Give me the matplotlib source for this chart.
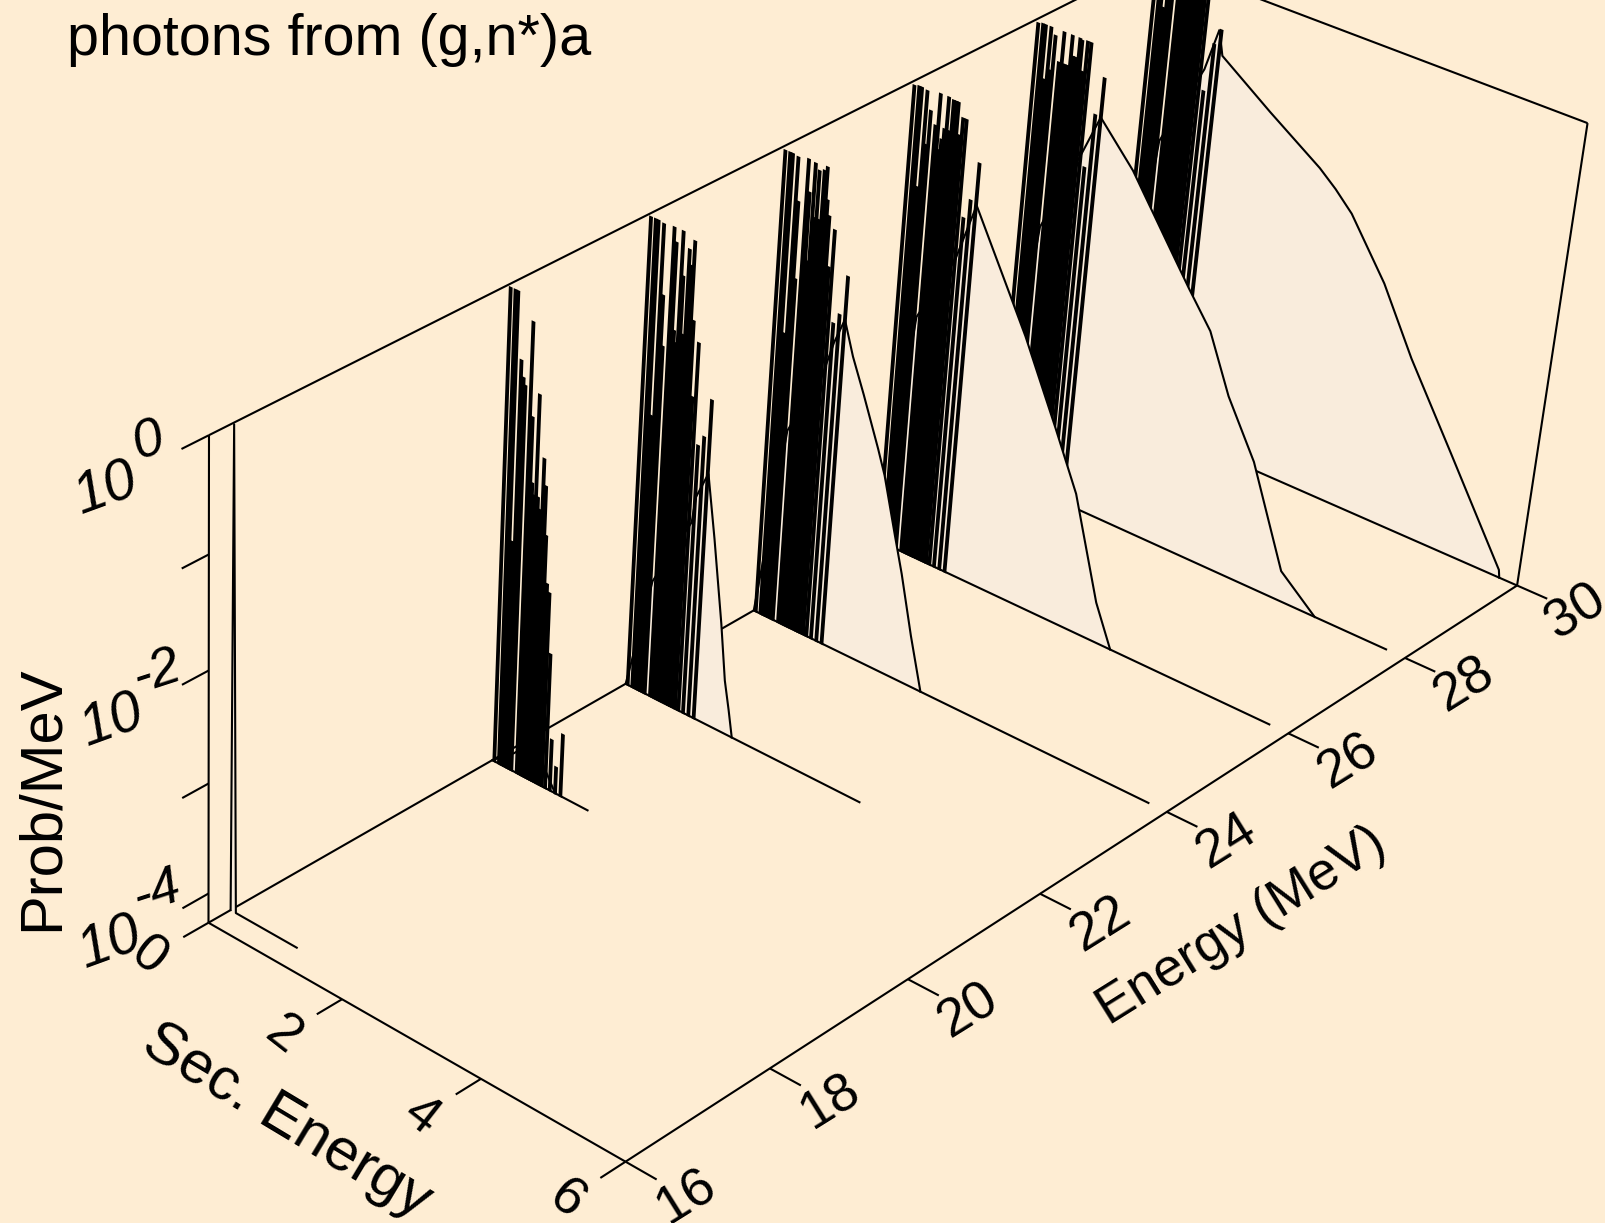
import numpy as np
import matplotlib
matplotlib.use("Agg")
import matplotlib.pyplot as plt
from matplotlib.patches import Polygon

plt.rcParams['font.family'] = ['Liberation Sans', 'DejaVu Sans']

BG = '#FEEDD3'
FILL = '#F9ECDC'
LW = 1.5
Z_MIN = -4.27
S = 1605 / 1568

TITLE = 'photons from (g,n*)a'
E_TICKS = [16, 18, 20, 22, 24, 26, 28, 30]
ES_TICKS = [0, 2, 4, 6]
Z_TICKS = [0, -1, -2, -3, -4]
Z_LABELS = {0: '0', -2: '-2', -4: '-4'}

# Secondary-energy positions of the discrete gamma lines (MeV)
LINE_ES = [.03, .10, .14, .18, .22, .26, .29, .37, .41, .44, .47, .50, .53, .56, .60,
           .64, .67, .71, .75, .80, .87, .95, 1.03]

# log10(prob/MeV) of the discrete lines for each incident energy
LINES_20 = [-.02, -.02, -.02, -2.2, -.59, -.73, -.79, -.22, -1.03, -1.6, -1.7, -.81, -1.7, -1.8,
            -1.34, -1.57, -2.0, -2.42, -2.49, -3.03, -3.8, -4.03, -3.7]
LINES_22 = [-.02, -.02, -.02, -1.73, -.03, -.64, -1.08, -.02, -.14, -.9, -1.0, -.02, -.40, -.9,
            -.15, -.28, -.06, -.74, -1.4, -.91, -1.8, -1.7, -1.35]
LINES_24 = [-.03, -.03, -.03, -1.62, -.04, -.42, -1.1, -.02, -.3, -.9, -.03, -.5, -.08, -.5,
            -.06, -.02, -.3, -.43, -.87, -.53, -1.34, -1.24, -.88]
LINES_26 = [-.03, -.02, -.02, -.9, -.03, -.5, -.19, -.3, -.01, -.5, -.4, -.3, -.01, -.3,
            -.02, -.02, -.02, -.3, -.14, -.14, -1.0, -.82, -.47]
LINES_28 = [-.03, -.02, -.02, -.5, -.02, -.4, -.08, -.3, -.02, -.3, -.3, -.3, -.02, -.2,
            -.2, -.02, -.03, -.3, -.02, -.02, -1.13, -.63, -.28]
LINES_30 = [-.02, -.02, -.02, -.4, -.02, -.3, -.06, -.2, -.02, -.2, -.2, -.2, -.02, -.2,
            -.1, -.02, -.03, -.2, -.02, -.01, -1.0, -.55, -.4]

# Continuum curves: secondary energy and log10(prob/MeV)
CONT_ES_20 = [0, .32, .6, .95]
CONT_Z_20 = [-4.27, -4.1, -3.9, -4.27]
CONT_ES_22 = [0, .32, .84, .88, 1.04, 1.18, 1.35, 1.45, 1.53, 1.6]
CONT_Z_22 = [-4.27, -3.2, -2.5, -2.26, -2.0, -2.55, -3.28, -3.78, -4.03, -4.27]
CONT_ES_24 = [0, .32, .78, .90, 1.03, 1.18, 1.37, 1.63, 1.75, 1.96, 2.10, 2.3, 2.5]
CONT_Z_24 = [-4.27, -2.47, -1.8, -1.5, -1.26, -1.55, -1.84, -2.26, -2.47, -2.96, -3.28, -3.8, -4.27]
CONT_ES_26 = [0, .32, .8, 1.04, 1.88, 2.42, 2.79, 3.22, 3.48]
CONT_Z_26 = [-4.27, -2.05, -1.4, -.84, -1.8, -2.5, -3.0, -3.9, -4.27]
CONT_ES_28 = [0, .32, .82, 1.03, 1.55, 2.49, 2.85, 3.2, 3.65, 4.2, 4.73]
CONT_Z_28 = [-4.27, -1.82, -1.0, -.63, -.98, -1.81, -2.11, -2.62, -3.11, -3.99, -4.27]
CONT_ES_30 = [0, .32, .85, 1.0, 1.08, 1.83, 2.6, 2.85, 3.11, 3.67, 4.17, 4.87, 5.73, 5.75]
CONT_Z_30 = [-4.27, -1.6, -.8, -.4, -.62, -.95, -1.27, -1.4, -1.56, -2.06, -2.63, -3.33, -4.2, -4.27]

SPECTRA = [
    (30, LINES_30, CONT_ES_30, CONT_Z_30, 6.0),
    (28, LINES_28, CONT_ES_28, CONT_Z_28, 5.75),
    (26, LINES_26, CONT_ES_26, CONT_Z_26, 5.75),
    (24, LINES_24, CONT_ES_24, CONT_Z_24, 5.76),
    (22, LINES_22, CONT_ES_22, CONT_Z_22, 3.48),
    (20, LINES_20, CONT_ES_20, CONT_Z_20, 1.45),
]
# Threshold spectrum: one narrow line
E_FIRST = 16.3
FIRST_ES = [0, .025, .08, 1.0]
FIRST_Z = [-4.27, 0, -4.27, -4.27]

# Perspective camera, calibrated on the box corners (E, Es, log10 P) -> shrunken px
CAL = [
    ((16, 0, Z_MIN), (204, 900)), ((16, 0, 0), (204, 426)), ((16, 0, -2), (204, 655)),
    ((16, 6, Z_MIN), (612, 1136)), ((30, 6, Z_MIN), (1482, 570)), ((30, 6, 0), (1550, 120)),
    ((30, 0, Z_MIN), (1085, 400)), ((30, 0, 0), (1130, -40)), ((22, 6, Z_MIN), (1017, 874)),
    ((24, 0, Z_MIN), (735, 595)), ((20, 0, Z_MIN), (480, 742)), ((26, 6, Z_MIN), (1258, 717)),
]
A, b = [], []
for (e, s, z), (u, v) in CAL:
    u, v = u * S, v * S
    A.append([e, s, z, 1, 0, 0, 0, 0, -u * e, -u * s, -u * z])
    b.append(u)
    A.append([0, 0, 0, 0, e, s, z, 1, -v * e, -v * s, -v * z])
    b.append(v)
p = np.linalg.lstsq(np.array(A, float), np.array(b, float), rcond=None)[0]
P = np.append(p, 1).reshape(3, 4)


def proj(e, s, z):
    e, s, z = np.broadcast_arrays(np.asarray(e, float), np.asarray(s, float), np.asarray(z, float))
    w = P[2, 0] * e + P[2, 1] * s + P[2, 2] * z + P[2, 3]
    return ((P[0, 0] * e + P[0, 1] * s + P[0, 2] * z + P[0, 3]) / w,
            (P[1, 0] * e + P[1, 1] * s + P[1, 2] * z + P[1, 3]) / w)


fig = plt.figure(figsize=(16.05, 12.23), dpi=100, facecolor=BG)
ax = fig.add_axes([0, 0, 1, 1])
ax.set_xlim(0, 1605)
ax.set_ylim(1223, 0)
ax.axis('off')


def line(e, s, z, **kw):
    x, y = proj(e, s, z)
    ax.plot(x, y, color='black', lw=kw.pop('lw', LW), solid_capstyle='butt', solid_joinstyle='miter', **kw)


# Box edges behind the spectra
line([16, 30], [0, 0], [Z_MIN, Z_MIN], zorder=1)
line([16, 30], [0, 0], [0, 0], zorder=1)
line([30, 30], [0, 6], [0, 0], zorder=1)
line([30, 30], [6, 6], [Z_MIN, 0], zorder=1)
line([16, 16], [0, 0], [Z_MIN, 0], zorder=1)

order = 2
DELTA = .0125
for energy, tops, ces, cz, es_max in SPECTRA:
    x, y = proj(energy, ces, cz)
    ax.add_patch(Polygon(np.column_stack([x, y]), closed=True, facecolor=FILL, edgecolor='none', zorder=order))
    ax.plot(x, y, color='black', lw=LW, solid_joinstyle='miter', zorder=order + .1)
    for es, top in zip(LINE_ES, tops):
        bx, by = proj(energy, [es - DELTA, es - DELTA, es + DELTA, es + DELTA], [Z_MIN, top, top, Z_MIN])
        ax.add_patch(Polygon(np.column_stack([bx, by]), closed=True, facecolor='black', edgecolor='black',
                             lw=LW, joinstyle='miter', zorder=order + .2))
    line([energy, energy], [0, es_max], [Z_MIN, Z_MIN], zorder=order + .3)
    order += 1

x, y = proj(E_FIRST, FIRST_ES, FIRST_Z)
ax.add_patch(Polygon(np.column_stack([x, y]), closed=True, facecolor=FILL, edgecolor='none', zorder=order))
ax.plot(x, y, color='black', lw=LW, zorder=order + .1)

# Front axes
TOP = order + 1
line([16, 30], [6, 6], [Z_MIN, Z_MIN], zorder=TOP)
line([16, 16], [0, 6], [Z_MIN, Z_MIN], zorder=TOP)
for t in E_TICKS:
    line([t, t], [6, 6.42], [Z_MIN, Z_MIN], zorder=TOP)
for t in ES_TICKS:
    line([16, 15.66], [t, t], [Z_MIN, Z_MIN], zorder=TOP)
for t in Z_TICKS:
    line([16, 15.65], [0, 0], [t, t], zorder=TOP)

for t in E_TICKS:
    x, y = proj(t, 6.82, Z_MIN)
    ax.text(x, y, str(t), fontsize=39, rotation=32, ha='center', va='center', rotation_mode='anchor')
for t in ES_TICKS:
    x, y = proj(15.2, t, Z_MIN)
    ax.text(x, y, str(t), fontsize=39, rotation=-38, ha='center', va='center', rotation_mode='anchor')

# z tick labels
LBL_10 = {0: (106, 490), -2: (112, 722), -4: (110, 944)}
LBL_EXP = {0: (148, 442), -2: (157, 672), -4: (157, 892)}
for t in Z_LABELS:
    ax.text(*LBL_10[t], '10', fontsize=41, rotation=20, style='italic', ha='center', va='center', rotation_mode='anchor')
    ax.text(*LBL_EXP[t], Z_LABELS[t], fontsize=39, rotation=18, style='italic', ha='center', va='center', rotation_mode='anchor')

ax.text(280 * S, 1095 * S, 'Sec. Energy', fontsize=43, rotation=-31, ha='center', va='center', rotation_mode='anchor')
ax.text(1213 * S, 905 * S, 'Energy (MeV)', fontsize=38.5, rotation=32, ha='center', va='center', rotation_mode='anchor')
ax.text(41 * S, 780 * S, 'Prob/MeV', fontsize=43, rotation=90, ha='center', va='center', rotation_mode='anchor')
ax.text(65 * S, 54 * S, TITLE, fontsize=41.4, ha='left', va='baseline')

fig.savefig('out.png', dpi=100, facecolor=BG)
